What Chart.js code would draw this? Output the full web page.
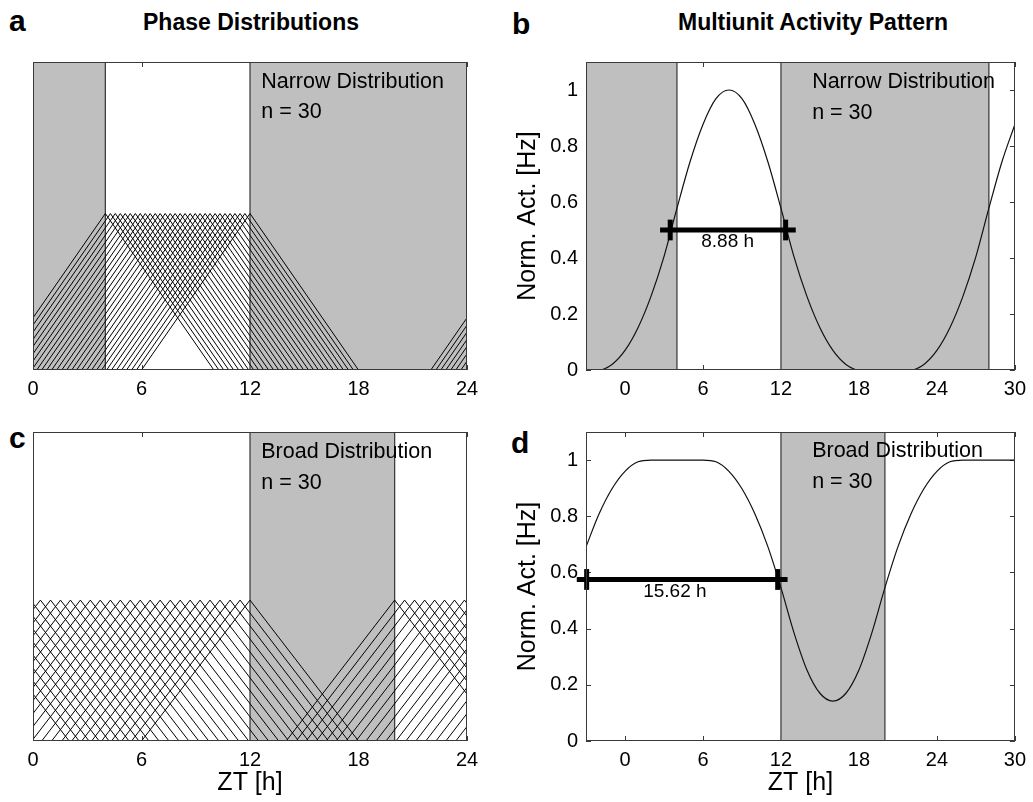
<!DOCTYPE html>
<html>
<head>
<meta charset="utf-8">
<script src="https://cdn.jsdelivr.net/npm/chart.js@4.4.1/dist/chart.umd.min.js"></script>
<style>
  html, body { margin: 0; padding: 0; background: #fff; }
  body { position: relative; width: 1033px; height: 802px; overflow: hidden; }
  canvas { position: absolute; }
  .t { position: absolute; font-family: "Liberation Sans", Arial, Helvetica, sans-serif; color: #000; white-space: nowrap; }
  .letter { font-weight: bold; font-size: 30px; line-height: 30px; }
  .title { font-weight: bold; font-size: 23px; line-height: 30px; width: 400px; text-align: center; }
</style>
</head>
<body>
<div class="t letter" style="left:9px;top:6px;">a</div>
<div class="t letter" style="left:512px;top:9px;">b</div>
<div class="t letter" style="left:9px;top:423px;">c</div>
<div class="t letter" style="left:511px;top:428px;">d</div>
<div class="t title" style="left:51px;top:7px;">Phase Distributions</div>
<div class="t title" style="left:613px;top:7px;">Multiunit Activity Pattern</div>

<canvas id="ca" width="500" height="370" style="left:0;top:40px;width:500px;height:370px"></canvas>
<canvas id="cb" width="533" height="370" style="left:500px;top:40px;width:533px;height:370px"></canvas>
<canvas id="cc" width="500" height="392" style="left:0;top:410px;width:500px;height:392px"></canvas>
<canvas id="cd" width="533" height="392" style="left:500px;top:410px;width:533px;height:392px"></canvas>

<script>
// ---------------- data ----------------
const hourTicks = [0, 6, 12, 18, 24];
const hourTicksExt = [0, 6, 12, 18, 24, 30];
const hourTickLabels = ['0', '6', '12', '18', '24', '30'];
const actTicks = [0, 0.2, 0.4, 0.6, 0.8, 1];
const actTickLabels = ['0', '0.2', '0.4', '0.6', '0.8', '1'];

// peak phases (ZT, h) of the 30 single-unit triangles
const narrowPhases = [4.00, 4.28, 4.55, 4.83, 5.10, 5.38, 5.66, 5.93, 6.21, 6.48,
                      6.76, 7.03, 7.31, 7.59, 7.86, 8.14, 8.41, 8.69, 8.97, 9.24,
                      9.52, 9.79, 10.07, 10.34, 10.62, 10.90, 11.17, 11.45, 11.72, 12.00];
const broadPhases = [20.00, 20.55, 21.10, 21.66, 22.21, 22.76, 23.31, 23.86, 0.41, 0.97,
                     1.52, 2.07, 2.62, 3.17, 3.72, 4.28, 4.83, 5.38, 5.93, 6.48,
                     7.03, 7.59, 8.14, 8.69, 9.24, 9.79, 10.34, 10.90, 11.45, 12.00];
const narrowPeak = 0.508;
const broadPeak = 0.456;
const triangleHalfWidth = 6;

// shaded (dark) intervals and their boundary lines, ZT h
const darkA = [[0, 4], [12, 24]];
const darkB = [[-3, 4], [12, 28]];
const darkC = [[12, 20]];
const darkD = [[12, 20]];
const edgesA = [4, 12];
const edgesB = [4, 12, 28];
const edgesC = [12, 20];
const edgesD = [12, 20];

// multiunit activity (normalised), hourly
const activityHours = [-3, -2, -1, 0, 1, 2, 3, 4, 5, 6, 7, 8, 9, 10, 11, 12, 13, 14, 15, 16,
                       17, 18, 19, 20, 21, 22, 23, 24, 25, 26, 27, 28, 29, 30];
const narrowActivity = [0, 0, 0.020, 0.070, 0.151, 0.263, 0.405, 0.578, 0.743, 0.877,
                        0.969, 1, 0.969, 0.877, 0.743, 0.578, 0.405, 0.263, 0.151, 0.070,
                        0.020, 0, 0, 0, 0, 0, 0.020, 0.070, 0.151, 0.263, 0.405, 0.578, 0.743, 0.877];
const broadActivity = [0.691, 0.808, 0.898, 0.960, 0.994, 1, 1, 1, 1, 1,
                       0.994, 0.960, 0.898, 0.808, 0.691, 0.546, 0.386, 0.253, 0.170, 0.142,
                       0.170, 0.253, 0.386, 0.546, 0.691, 0.808, 0.898, 0.960, 0.994, 1, 1, 1, 1, 1];

// width at half maximum markers
const narrowFwhmLevel = 0.5;
const narrowFwhmTicks = [3.48, 12.36];
const narrowFwhmBar = [2.70, 13.14];
const narrowFwhmText = ['8.88 h', 7.9, 0.457];
const broadFwhmLevel = 0.575;
const broadFwhmTicks = [-2.95, 11.75];
const broadFwhmBar = [-3.71, 12.51];
const broadFwhmText = ['15.62 h', 3.84, 0.533];
const fwhmTickHalf = 0.037;

// ---------------- style ----------------
const FONT = '"Liberation Sans", Arial, Helvetica, sans-serif';
const GRAY = '#bfbfbf';
const HATCH = '#000000';
const EDGE = '#333333';
const FRAME = '#3a3a3a';

function bandSets(bands, top) {
  return bands.map(([a, b]) => ({
    data: [{x: a, y: top}, {x: b, y: top}],
    fill: 'origin', backgroundColor: GRAY, borderWidth: 0, pointRadius: 0, order: 100
  }));
}
function edgeSets(xs, top) {
  return xs.map(v => ({
    data: [{x: v, y: 0}, {x: v, y: top}],
    borderColor: EDGE, borderWidth: 1.2, pointRadius: 0, fill: false, order: 90
  }));
}
function triangleSets(phases, peak) {
  const out = [];
  phases.forEach(p => {
    [-24, 0, 24].forEach(s => {
      const c = p + s;
      if (c + triangleHalfWidth <= 0 || c - triangleHalfWidth >= 24) return;
      out.push({
        data: [{x: c - triangleHalfWidth, y: 0}, {x: c, y: peak}, {x: c + triangleHalfWidth, y: 0}],
        borderColor: HATCH, borderWidth: 1, pointRadius: 0, fill: false, tension: 0, order: 50
      });
    });
  });
  return out;
}
function curveSet(values) {
  return {
    data: activityHours.map((h, i) => ({x: h, y: values[i]})),
    borderColor: '#111', borderWidth: 1.2, pointRadius: 0, fill: false,
    cubicInterpolationMode: 'monotone', order: 20
  };
}
function fwhmSets(level, ticks, bar) {
  const sets = [{
    data: [{x: bar[0], y: level}, {x: bar[1], y: level}],
    borderColor: '#000', borderWidth: 5, pointRadius: 0, fill: false, clip: false, order: 5,
    borderCapStyle: 'butt'
  }];
  ticks.forEach(t => sets.push({
    data: [{x: t, y: level - fwhmTickHalf}, {x: t, y: level + fwhmTickHalf}],
    borderColor: '#000', borderWidth: 5, pointRadius: 0, fill: false, clip: false, order: 4,
    borderCapStyle: 'butt'
  }));
  return sets;
}

const framePlugin = {
  id: 'frameTicks',
  beforeDatasetsDraw(chart) {
    const {ctx, chartArea: a, scales} = chart;
    ctx.save();
    ctx.strokeStyle = FRAME;
    ctx.lineWidth = 1;
    ctx.beginPath();
    const len = 5;
    scales.x.ticks.forEach(t => {
      const px = Math.round(scales.x.getPixelForValue(t.value)) + 0.5;
      ctx.moveTo(px, a.bottom); ctx.lineTo(px, a.bottom - len);
      ctx.moveTo(px, a.top); ctx.lineTo(px, a.top + len);
    });
    if (scales.y.options.display) {
      scales.y.ticks.forEach(t => {
        const py = Math.round(scales.y.getPixelForValue(t.value)) + 0.5;
        ctx.moveTo(a.left, py); ctx.lineTo(a.left + len, py);
        ctx.moveTo(a.right, py); ctx.lineTo(a.right - len, py);
      });
    }
    ctx.stroke();
    ctx.restore();
  },
  afterDatasetsDraw(chart, args, opts) {
    const {ctx, chartArea: a, scales} = chart;
    ctx.save();
    ctx.strokeStyle = FRAME;
    ctx.lineWidth = 1;
    ctx.strokeRect(Math.round(a.left) + 0.5, Math.round(a.top) + 0.5,
                   Math.round(a.right - a.left) - 1, Math.round(a.bottom - a.top) - 1);
    (opts.texts || []).forEach(tx => {
      ctx.font = tx.size + 'px ' + FONT;
      ctx.fillStyle = '#000';
      ctx.textAlign = tx.align || 'left';
      ctx.textBaseline = 'middle';
      ctx.fillText(tx.text, scales.x.getPixelForValue(tx.x), scales.y.getPixelForValue(tx.y));
    });
    ctx.restore();
  }
};

function makeChart(id, cfg) {
  const xs = {
    type: 'linear', min: cfg.xmin, max: cfg.xmax,
    grid: {display: false, drawTicks: false},
    border: {display: false},
    afterBuildTicks: s => { s.ticks = cfg.xticks.map(v => ({value: v})); },
    ticks: {
      padding: 7, color: '#000', maxRotation: 0, autoSkip: false,
      font: {family: FONT, size: 20},
      callback: v => hourTickLabels[hourTicksExt.indexOf(v)]
    },
    title: {display: !!cfg.xtitle, text: cfg.xtitle || '', color: '#000',
            font: {family: FONT, size: 25}, padding: {top: 0, bottom: 4}},
    afterFit: s => { s.height = cfg.xh; }
  };
  const ys = cfg.ylabels ? {
    type: 'linear', min: 0, max: cfg.ymax,
    grid: {display: false, drawTicks: false},
    border: {display: false},
    afterBuildTicks: s => { s.ticks = actTicks.map(v => ({value: v})); },
    ticks: {
      padding: 8, color: '#000', font: {family: FONT, size: 20},
      callback: v => actTickLabels[actTicks.indexOf(v)]
    },
    title: {display: true, text: 'Norm. Act. [Hz]', color: '#000',
            font: {family: FONT, size: 25}, padding: {top: 13, bottom: 0}},
    afterFit: s => { s.width = cfg.yw; }
  } : {type: 'linear', min: 0, max: cfg.ymax, display: false};

  return new Chart(document.getElementById(id), {
    type: 'line',
    data: {datasets: cfg.datasets},
    options: {
      responsive: false, animation: false, events: [],
      layout: {padding: cfg.padding},
      plugins: {legend: {display: false}, tooltip: {enabled: false}, frameTicks: {texts: cfg.texts}},
      scales: {x: xs, y: ys}
    },
    plugins: [framePlugin]
  });
}

// ---------------- panels ----------------
makeChart('ca', {
  xmin: 0, xmax: 24, xticks: hourTicks, ymax: 1, xh: 40,
  padding: {left: 33, right: 33, top: 22, bottom: 0},
  datasets: [...bandSets(darkA, 1), ...edgeSets(edgesA, 1), ...triangleSets(narrowPhases, narrowPeak)],
  texts: [
    {text: 'Narrow Distribution', x: 12.62, y: 0.936, size: 21.5},
    {text: 'n = 30', x: 12.62, y: 0.837, size: 21.5}
  ]
});

makeChart('cb', {
  xmin: -3, xmax: 30, xticks: hourTicksExt, ymax: 1.1, xh: 40, ylabels: true, yw: 86,
  padding: {left: 0, right: 13, top: 22, bottom: 0},
  datasets: [...bandSets(darkB, 1.1), ...edgeSets(edgesB, 1.1), curveSet(narrowActivity),
             ...fwhmSets(narrowFwhmLevel, narrowFwhmTicks, narrowFwhmBar)],
  texts: [
    {text: 'Narrow Distribution', x: 14.4, y: 1.03, size: 21.5},
    {text: 'n = 30', x: 14.4, y: 0.917, size: 21.5},
    {text: narrowFwhmText[0], x: narrowFwhmText[1], y: narrowFwhmText[2], size: 19, align: 'center'}
  ]
});

makeChart('cc', {
  xmin: 0, xmax: 24, xticks: hourTicks, ymax: 1, xh: 61, xtitle: 'ZT [h]',
  padding: {left: 33, right: 33, top: 22, bottom: 0},
  datasets: [...bandSets(darkC, 1), ...edgeSets(edgesC, 1), ...triangleSets(broadPhases, broadPeak)],
  texts: [
    {text: 'Broad Distribution', x: 12.62, y: 0.935, size: 21.5},
    {text: 'n = 30', x: 12.62, y: 0.836, size: 21.5}
  ]
});

makeChart('cd', {
  xmin: -3, xmax: 30, xticks: hourTicksExt, ymax: 1.1, xh: 61, xtitle: 'ZT [h]', ylabels: true, yw: 86,
  padding: {left: 0, right: 13, top: 22, bottom: 0},
  datasets: [...bandSets(darkD, 1.1), ...edgeSets(edgesD, 1.1), curveSet(broadActivity),
             ...fwhmSets(broadFwhmLevel, broadFwhmTicks, broadFwhmBar)],
  texts: [
    {text: 'Broad Distribution', x: 14.4, y: 1.031, size: 21.5},
    {text: 'n = 30', x: 14.4, y: 0.922, size: 21.5},
    {text: broadFwhmText[0], x: broadFwhmText[1], y: broadFwhmText[2], size: 19, align: 'center'}
  ]
});
</script>
</body>
</html>
